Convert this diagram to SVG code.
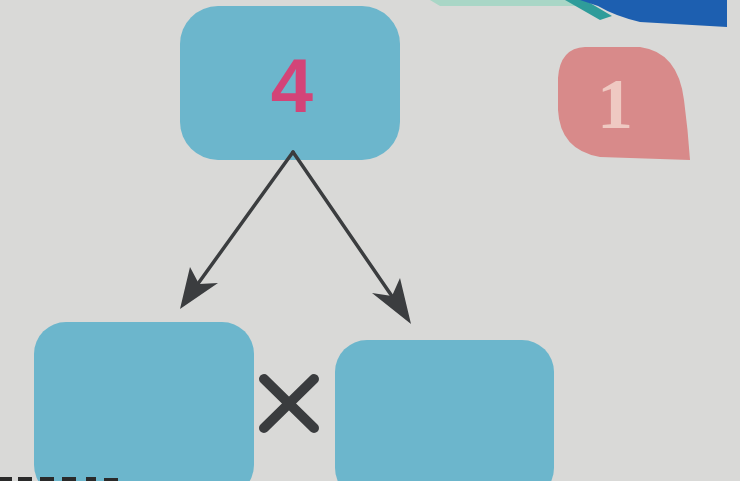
<svg xmlns="http://www.w3.org/2000/svg" width="740" height="481" viewBox="0 0 740 481">
<style>
.box{fill:#6cb6cc}
.conn{stroke:#3b3d3f;stroke-width:3.5;fill:none;stroke-linecap:round}
.head{fill:#3b3d3f}
.num{font-family:"Liberation Sans",Arial,sans-serif;font-weight:bold}
</style>
<rect width="740" height="481" fill="#d9d9d7"/>
<g id="corner">
<path d="M430,0 L585,0 L592,6 L440,6 Z" fill="#a9d6c6"/>
<path d="M565,0 L585,0 L612,16 L600,20 Z" fill="#2f9c9a"/>
<path d="M580,0 L727,0 L727,27 L640,22 Q615,16 598,6 Z" fill="#1d5fb0"/>
</g>
<g id="node-4">
<rect class="box" x="180" y="6" width="220" height="154" rx="38"/>
<text class="num" x="292" y="112" font-size="76" text-anchor="middle" fill="#d34478">4</text>
</g>
<g id="node-1">
<path d="M585,47 L640,47 Q678,52 684,100 Q688,130 690,160 L600,157 Q560,150 558,110 L558,78 Q560,48 585,47 Z" fill="#d88a8a"/>
<text x="615" y="128" font-family="Liberation Serif,'Times New Roman',serif" font-weight="bold" font-size="72" text-anchor="middle" fill="#efc9c2">1</text>
</g>
<g id="connectors">
<path class="conn" d="M293,152 L192,292"/>
<path class="conn" d="M293,152 L398,305"/>
<path class="head" d="M180,309 L190,267 L199,284 L218,283 Z"/>
<path class="head" d="M411,324 L372,293 L392,296 L400,278 Z"/>
</g>
<g id="node-left">
<rect class="box" x="34" y="322" width="220" height="175" rx="32"/>
</g>
<g id="times">
<path d="M264,379 L314,428 M314,379 L264,428" stroke="#3a3c3e" stroke-width="10" stroke-linecap="round"/>
</g>
<g id="node-right">
<rect class="box" x="335" y="340" width="219" height="160" rx="32"/>
</g>
<g id="marks" fill="#2a2a2a">
<rect x="0" y="477" width="12" height="4"/>
<rect x="18" y="477" width="14" height="4"/>
<rect x="40" y="477" width="14" height="4"/>
<rect x="62" y="477" width="14" height="4"/>
<rect x="86" y="477" width="10" height="4"/>
<rect x="104" y="478" width="14" height="3"/>
</g>
</svg>
